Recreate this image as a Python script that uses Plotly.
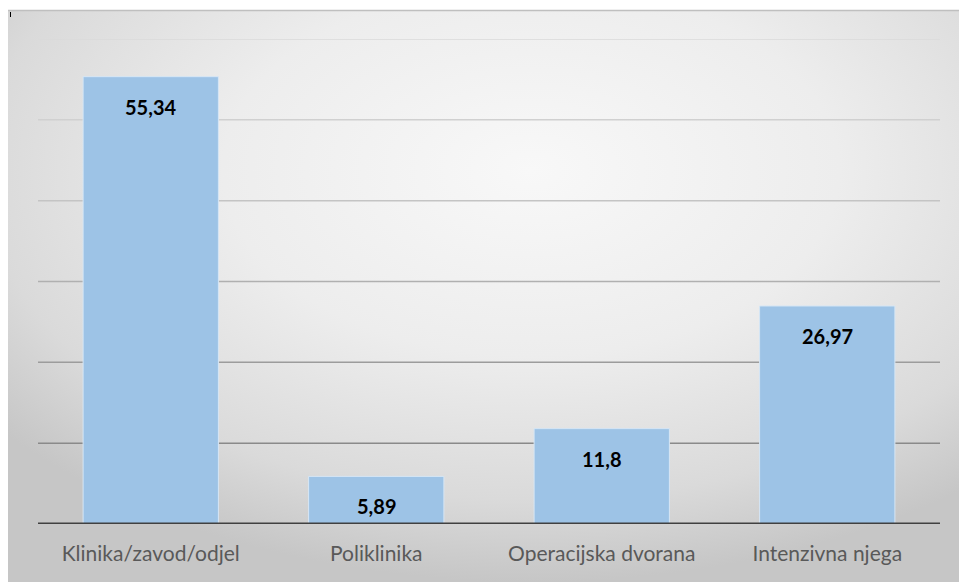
import base64
import plotly.graph_objects as go

categories = ["Klinika/zavod/odjel", "Poliklinika", "Operacijska dvorana", "Intenzivna njega"]
values = [55.34, 5.89, 11.8, 26.97]
value_labels = ["55,34", "5,89", "11,8", "26,97"]
grid_levels = [10, 20, 30, 40, 50, 60]
grid_colors = ["#8a8a8a", "#9c9c9c", "#b0b0b0", "#c4c4c4", "#d0d0d0", "#dadada"]

W, H = 959, 582
ML, MR, MT, MB = 38, 19, 39, 58
pw = W - ML - MR
ph = H - MT - MB

def px_x(px):
    return (px - ML) / pw

def px_y(py):
    return (H - MB - py) / ph

svg = (
    '<svg xmlns="http://www.w3.org/2000/svg" width="951" height="572" preserveAspectRatio="none">'
    '<defs><radialGradient id="g" cx="0.55" cy="0.28" r="0.72" fx="0.55" fy="0.28">'
    '<stop offset="0" stop-color="#f8f8f8"/>'
    '<stop offset="0.45" stop-color="#ededed"/>'
    '<stop offset="0.8" stop-color="#dadada"/>'
    '<stop offset="1" stop-color="#c6c6c6"/>'
    '</radialGradient></defs>'
    '<rect width="951" height="572" fill="url(#g)"/></svg>'
)
src = "data:image/svg+xml;base64," + base64.b64encode(svg.encode()).decode()

fig = go.Figure()
fig.add_trace(go.Bar(
    x=categories, y=values,
    marker=dict(color="#9dc3e6", line=dict(color="#d6e6f5", width=1)),
    width=0.6, hoverinfo="skip",
))

for c, v, t in zip(categories, values, value_labels):
    fig.add_annotation(x=c, y=v, text="<b>%s</b>" % t, showarrow=False,
                       yanchor="top", yshift=-16,
                       font=dict(family="Lato, 'Open Sans', sans-serif", size=20, color="#000000"))

shapes = []
for lvl, col in zip(grid_levels, grid_colors):
    shapes.append(dict(type="line", xref="paper", yref="y", x0=0, x1=1, y0=lvl, y1=lvl,
                       line=dict(color=col, width=1.5), layer="below"))
# top border of chart area
shapes.append(dict(type="line", xref="paper", yref="paper", x0=px_x(8), x1=px_x(959),
                   y0=px_y(10.5), y1=px_y(10.5), line=dict(color="#bfbfbf", width=1.5)))
# small mark at top-left
shapes.append(dict(type="line", xref="paper", yref="paper", x0=px_x(10.5), x1=px_x(10.5),
                   y0=px_y(12), y1=px_y(17), line=dict(color="#000000", width=1)))
# x axis baseline
shapes.append(dict(type="line", xref="paper", yref="y", x0=0, x1=1, y0=0, y1=0,
                   line=dict(color="#404040", width=3)))

fig.update_layout(
    width=W, height=H,
    margin=dict(l=ML, r=MR, t=MT, b=MB),
    paper_bgcolor="#ffffff", plot_bgcolor="rgba(0,0,0,0)",
    showlegend=False,
    bargap=0.4,
    shapes=shapes,
    images=[dict(source=src, xref="paper", yref="paper", x=px_x(8), y=px_y(10),
                 sizex=px_x(959) - px_x(8), sizey=px_y(10) - px_y(582),
                 xanchor="left", yanchor="top", sizing="stretch", layer="below")],
    xaxis=dict(showgrid=False, showline=False, ticks="", zeroline=False,
               tickfont=dict(family="Lato, 'Open Sans', sans-serif", size=21, color="#595959"),
               ticklabelstandoff=15),
    yaxis=dict(range=[0, 60], showgrid=False, showticklabels=False, zeroline=False,
               showline=False, ticks=""),
    font=dict(family="Lato, sans-serif"),
)

fig.write_html("out.html",
               config={"displayModeBar": False},
               post_script="document.body.style.margin='0';"
                           "document.documentElement.style.overflow='hidden';")
